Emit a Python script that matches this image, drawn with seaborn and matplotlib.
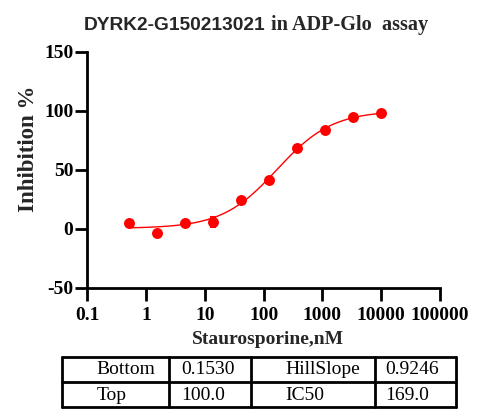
import numpy as np
import pandas as pd
import matplotlib
matplotlib.use("Agg")
import matplotlib.pyplot as plt
import seaborn as sns
from matplotlib.lines import Line2D

# ---- data ----
conc_nM = [0.508, 1.52, 4.57, 13.7, 41.2, 123.5, 370.4, 1111.1, 3333.3, 10000.0]
inhibition = [4.8, -3.4, 4.5, 5.9, 24.5, 40.8, 68.7, 83.4, 94.6, 98.0]
inhibition_err = [1.0, 1.0, 1.2, 4.2, 1.5, 1.5, 1.5, 1.2, 1.0, 1.0]
fit_bottom = 0.1530
fit_top = 100.0
fit_hill = 0.9246
fit_ic50 = 169.0
x_ticks = [0.1, 1, 10, 100, 1000, 10000, 100000]
x_ticklabels = ["0.1", "1", "10", "100", "1000", "10000", "100000"]
y_ticks = [-50, 0, 50, 100, 150]
table_rows = [["Bottom", "0.1530", "HillSlope", "0.9246"],
              ["Top", "100.0", "IC50", "169.0"]]

sns.set_theme(style="ticks")
plt.rcParams['font.family'] = ['Liberation Serif', 'DejaVu Serif']
plt.rcParams['axes.unicode_minus'] = False

fig = plt.figure(figsize=(5, 4.2), dpi=100)
W, H = 500, 420
ax_l, ax_r, ax_t, ax_b = 87.3, 440.0, 51.7, 287.5
ax = fig.add_axes([ax_l / W, 1 - ax_b / H, (ax_r - ax_l) / W, (ax_b - ax_t) / H])

df = pd.DataFrame({"conc": conc_nM, "inh": inhibition, "err": inhibition_err})

# fitted 4PL curve from the table parameters
xc = np.logspace(np.log10(conc_nM[0]), np.log10(conc_nM[-1]), 300)
yc = fit_bottom + (fit_top - fit_bottom) / (1 + (fit_ic50 / xc) ** fit_hill)
curve = pd.DataFrame({"conc": xc, "inh": yc})
sns.lineplot(data=curve, x="conc", y="inh", ax=ax, color="#ff0000", lw=1.0)

ax.errorbar(df["conc"], df["inh"], yerr=df["err"], fmt="none",
            ecolor="#ff0000", elinewidth=1.5, capsize=2.5, capthick=1.5, zorder=3)
sns.scatterplot(data=df, x="conc", y="inh", ax=ax, color="#ff0000", s=62,
                edgecolor="#ff0000", linewidth=0, zorder=4)

ax.set_xscale("log")
ax.set_xlim(0.1, 100000)
ax.set_ylim(-50, 150)
ax.set_xticks(x_ticks)
ax.set_xticklabels(x_ticklabels)
ax.minorticks_off()
ax.set_yticks(y_ticks)
for s in ["top", "right"]:
    ax.spines[s].set_visible(False)
for s in ["left", "bottom"]:
    ax.spines[s].set_linewidth(2)
    ax.spines[s].set_color("black")
ax.tick_params(axis="both", width=2, length=9, color="black", direction="out")
for lab in ax.get_xticklabels() + ax.get_yticklabels():
    lab.set_fontweight("bold")
    lab.set_fontsize(14)
    lab.set_color("black")
ax.tick_params(axis="x", pad=5)
ax.tick_params(axis="y", pad=1)
ax.set_xlabel("Staurosporine,nM", fontsize=14, fontweight="bold", va="center")
ax.set_ylabel("Inhibition %", fontsize=16.5, fontweight="bold", va="center")
ax.xaxis.set_label_coords((268 - ax_l) / (ax_r - ax_l), (ax_b - 340) / (ax_b - ax_t))
ax.yaxis.set_label_coords((28 - ax_l) / (ax_r - ax_l), (ax_b - 149) / (ax_b - ax_t))

# title with mixed fonts
t1 = fig.text(84 / W, 1 - 25 / H, "DYRK2-G150213021", family=["Liberation Sans"],
              fontweight="bold", fontsize=13.8, ha="left", va="center")
fig.canvas.draw()
bb = t1.get_window_extent(renderer=fig.canvas.get_renderer())
fig.text((bb.x1 + 5) / W, 1 - 25 / H, "in ADP-Glo  assay", family=["Liberation Serif"],
         fontweight="bold", fontsize=14.6, ha="left", va="center")

# parameter table
tl, tr = 61.7, 455.7
tt, tm, tb = 357.3, 382.3, 406.7
cols = [169.3, 250.5, 375.0]
lw = 2
def fl(x0, y0, x1, y1):
    fig.add_artist(Line2D([x0 / W, x1 / W], [1 - y0 / H, 1 - y1 / H],
                          color="black", lw=lw, transform=fig.transFigure))
fl(tl, tt, tr, tt)
fl(tl, tm, tr, tm)
fl(tl, tb, tr, tb)
fl(tl, tt, tl, tb)
fl(tr, tt, tr, tb)
for c in cols:
    fl(c, tt, c, tb)
text_x = [96.7, 181.0, 285.7, 385.0]
row_y = [370.0, 395.0]
for r, row in enumerate(table_rows):
    for c, txt in enumerate(row):
        fig.text(text_x[c] / W, 1 - row_y[r] / H, txt, fontsize=14,
                 ha="left", va="center", color="black")

fig.savefig("out.png", dpi=100)
